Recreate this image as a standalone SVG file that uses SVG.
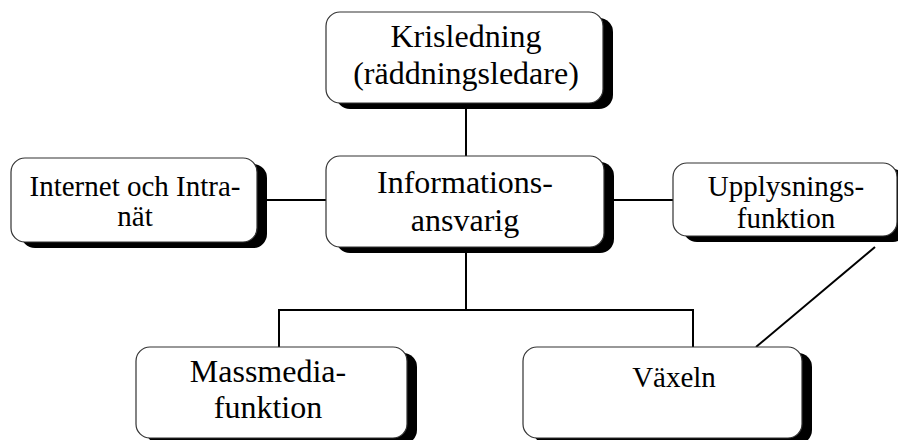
<svg xmlns="http://www.w3.org/2000/svg" width="898" height="440" viewBox="0 0 898 440">
<style>
.sh{fill:#000;}
.bx{fill:#fff;stroke:#333;stroke-width:1.2;}
.t{font-family:"Liberation Serif","Times New Roman",serif;fill:#000;text-anchor:middle;}
.c{stroke:#000;stroke-width:2;fill:none;}
</style>
<rect width="898" height="440" fill="#fff"/>
<g id="connectors">
<line class="c" x1="466" y1="106" x2="466" y2="156"/>
<line class="c" x1="466" y1="251" x2="466" y2="310"/>
<polyline class="c" points="279,347 279,310 693,310 693,347"/>
<line class="c" x1="265" y1="200" x2="326" y2="200"/>
<line class="c" x1="612" y1="200" x2="673" y2="200"/>
<line class="c" x1="756" y1="347" x2="875" y2="247"/>
</g>
<g id="krisledning">
<rect class="sh" x="336" y="18" width="277" height="91" rx="14"/>
<rect class="bx" x="326" y="12" width="277" height="91" rx="14"/>
<text class="t" x="466" y="47" font-size="32">Krisledning</text>
<text class="t" x="466" y="84" font-size="32">(räddningsledare)</text>
</g>
<g id="informationsansvarig">
<rect class="sh" x="336" y="162" width="278" height="91" rx="14"/>
<rect class="bx" x="326" y="156" width="278" height="91" rx="14"/>
<text class="t" x="465" y="193" font-size="32">Informations-</text>
<text class="t" x="465" y="231" font-size="32">ansvarig</text>
</g>
<g id="internet">
<rect class="sh" x="21" y="164" width="246" height="84" rx="14"/>
<rect class="bx" x="11" y="158" width="246" height="84" rx="14"/>
<text class="t" x="135" y="196" font-size="29">Internet och Intra-</text>
<text class="t" x="135" y="226" font-size="29">nät</text>
</g>
<g id="upplysning">
<rect class="sh" x="683" y="169" width="224" height="73" rx="14"/>
<rect class="bx" x="673" y="163" width="224" height="73" rx="14"/>
<text class="t" x="786" y="196" font-size="29">Upplysnings-</text>
<text class="t" x="786" y="228" font-size="29">funktion</text>
</g>
<g id="massmedia">
<rect class="sh" x="146" y="353" width="271" height="91" rx="14"/>
<rect class="bx" x="136" y="347" width="271" height="91" rx="14"/>
<text class="t" x="268" y="382" font-size="32">Massmedia-</text>
<text class="t" x="268" y="418" font-size="32">funktion</text>
</g>
<g id="vaxeln">
<rect class="sh" x="533" y="353" width="279" height="91" rx="14"/>
<rect class="bx" x="523" y="347" width="279" height="91" rx="14"/>
<text class="t" x="674" y="387" font-size="29">Växeln</text>
</g>
</svg>
